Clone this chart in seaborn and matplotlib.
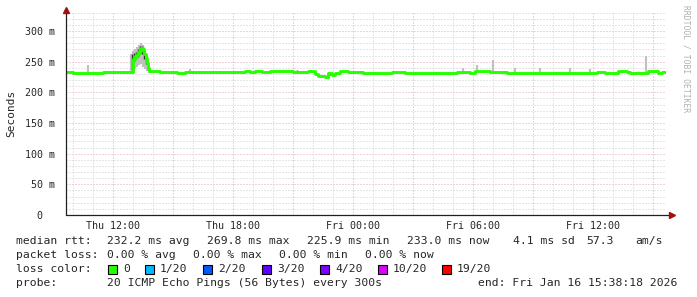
import numpy as np
import pandas as pd
import matplotlib
matplotlib.use("Agg")
import matplotlib.pyplot as plt
import seaborn as sns

# ---------------- data ----------------
# hours since start of graph (Thu 09:38:18), median RTT in ms (step changes)
med_hours = [0.0, 0.35, 1.85, 3.35, 3.45, 3.55, 3.65, 3.75, 3.85, 3.9, 4.0, 4.05,
             4.1, 4.15, 4.7, 5.55, 5.95, 6.2, 8.45, 8.95, 9.2, 9.45, 9.8, 10.2,
             11.35, 11.6, 11.7, 12.1, 12.45, 12.6, 12.95, 13.1, 13.3, 13.45, 13.7,
             14.1, 14.6, 14.85, 16.3, 16.95, 17.85, 19.55, 20.2, 20.45, 21.2, 22.05,
             26.55, 26.95, 27.6, 28.05, 28.2, 29.1, 29.6, 29.8, 29.95]
med_ms = [233.5, 231.5, 233.5, 255, 260, 263, 268, 272, 270, 262, 256, 248,
          240, 234.5, 232.5, 231.5, 233, 232.5, 233, 235.5, 232.5, 235.5, 232.5, 234.5,
          232.5, 233.5, 232.5, 234.5, 230.5, 226.5, 225.5, 231.5, 228, 231.5, 234.5,
          232.5, 233.5, 231.5, 233, 231.5, 231.5, 232.5, 231.5, 234.5, 232.5, 231.5,
          233.5, 231.5, 234.5, 232.5, 231, 234.5, 231.5, 233.5, 233.5]

# smoke (spread of the 20 pings) - light outer layer
smoke_hours = [1.1, 3.25, 3.35, 3.45, 3.55, 3.65, 3.75, 3.85, 3.95, 4.05, 4.15, 6.2, 19.85,
               20.55, 21.35, 22.45, 23.7, 25.2, 26.2, 29.0]
smoke_lo = [232, 234, 238, 240, 242, 244, 246, 242, 238, 234, 232, 232, 232,
            232, 232, 232, 232, 232, 232, 232]
smoke_hi = [244, 262, 268, 271, 274, 278, 280, 277, 268, 255, 242, 238, 240,
            244, 252, 240, 240, 240, 238, 260]
# smoke - dark inner layer
core_hours = [3.3, 3.4, 3.5, 3.6, 3.7, 3.8, 3.9, 4.0, 4.1, 11.55, 12.65, 13.2, 29.15]
core_lo = [236, 250, 255, 258, 262, 262, 255, 246, 236, 232, 226, 228, 233]
core_hi = [262, 264, 266, 270, 275, 276, 268, 260, 248, 236, 230, 232, 236]

y_ticks = [0, 50, 100, 150, 200, 250, 300]
y_labels = ["0  ", "50 m", "100 m", "150 m", "200 m", "250 m", "300 m"]
x_labels = ["Thu 12:00", "Thu 18:00", "Fri 00:00", "Fri 06:00", "Fri 12:00"]
start_offset_h = 38.3 / 60.0  # start is 38.3 min past the hour (09:38:18)

loss_labels = ["0", "1/20", "2/20", "3/20", "4/20", "10/20", "19/20"]
loss_colors = ["#26ff00", "#00b8ff", "#0059ff", "#5e00ff", "#7e00ff", "#dd00ff", "#ff0000"]

# ---------------- figure ----------------
sns.set_style("white")
MONO = ["DejaVu Sans Mono"]
plt.rcParams["font.family"] = MONO

W, H = 697, 297
fig = plt.figure(figsize=(W / 100, H / 100), dpi=100)
fig.patch.set_facecolor("white")
ax = fig.add_axes([66 / W, 82 / H, 600 / W, 203 / H])
ax.set_facecolor("white")
XMAX = 30.0
YMAX = 331.0
ax.set_xlim(0, XMAX)
ax.set_ylim(0, YMAX)

# grid
dot = (0, (1, 2))
minor_c = "#cfcfcf"
major_c = "#e6a9a9"
for v in np.arange(10, YMAX, 10):
    ax.axhline(v, color=(major_c if v % 50 == 0 else minor_c), lw=0.72, ls=dot, zorder=1)
first_hour = 1 - start_offset_h
for i, h in enumerate(np.arange(first_hour, XMAX, 1.0)):
    clock = (10 + i) % 24
    ax.axvline(h, color=(major_c if clock % 3 == 0 else minor_c), lw=0.72, ls=dot, zorder=1)

# smoke
ax.vlines(smoke_hours, smoke_lo, smoke_hi, color="#c0c0c0", lw=1.6, zorder=2)
ax.vlines(core_hours, core_lo, core_hi, color="#3a3a3a", lw=1.0, zorder=3)

# median line
df = pd.DataFrame({"hours": med_hours, "ms": med_ms})
sns.lineplot(data=df, x="hours", y="ms", ax=ax, color=loss_colors[0], lw=2.1,
             drawstyle="steps-post", zorder=4, legend=False)

# axes lines and arrows
for s in ax.spines.values():
    s.set_visible(False)
ax.plot([0, 30.3], [0, 0], color="#202020", lw=0.9, clip_on=False, zorder=5)
ax.plot([0, 0], [0, YMAX + 3], color="#202020", lw=0.9, clip_on=False, zorder=5)
ax.plot([30.3], [0], marker=">", color="#a01010", ms=4, clip_on=False, zorder=6)
ax.plot([0], [YMAX + 4], marker="^", color="#a01010", ms=4, clip_on=False, zorder=6)

# ticks
label_pos = [2 + (1 - start_offset_h) + 6 * i for i in range(5)]
ax.set_xticks(label_pos)
ax.set_xticklabels(x_labels, fontsize=7.2, family=MONO)
ax.set_xticks(np.arange(first_hour, XMAX, 1.0), minor=True)
ax.tick_params(axis="x", which="both", length=2, width=0.7, color="#808080",
               direction="out", pad=2)
ax.set_yticks(y_ticks)
ax.set_yticklabels(y_labels, fontsize=7.2, family=MONO)
ax.tick_params(axis="y", length=2, width=0.7, color="#808080", direction="out", pad=6)
ax.set_xlabel("")
ax.set_ylabel("")

# y label
fig.text(11 / W, 1 - 113 / H, "Seconds", rotation=90, ha="center", va="center",
         fontsize=8, family=MONO)

# watermark
fig.text(686 / W, 1 - 59 / H, "RRDTOOL / TOBI OETIKER", rotation=270, ha="center",
         va="center", fontsize=5.8, family=MONO, color="#b0b0b0")

# legend lines
LF = 8.2
def ptxt(x, y, s):
    fig.text(x / W, 1 - y / H, s, ha="left", va="center", fontsize=LF, family=MONO)

row1 = [(16, "median rtt:"), (107, "232.2 ms avg"), (207, "269.8 ms max"),
        (307, "225.9 ms min"), (407, "233.0 ms now"), (513, "4.1 ms sd"),
        (586, "57.3"), (635, "am/s")]
row2 = [(16, "packet loss:"), (107, "0.00 % avg"), (193, "0.00 % max"),
        (279, "0.00 % min"), (365, "0.00 % now")]
for x, s in row1:
    ptxt(x, 241, s)
for x, s in row2:
    ptxt(x, 255, s)
ptxt(16, 269, "loss color:")
box_x = [108, 145, 203, 262, 320, 378, 442]
for bx, lab, col in zip(box_x, loss_labels, loss_colors):
    fig.patches.append(plt.Rectangle((bx / W, 1 - 273.5 / H), 9 / W, 9 / H,
                                     transform=fig.transFigure, facecolor=col,
                                     edgecolor="black", lw=0.8))
    ptxt(bx + 15, 269, lab)
ptxt(16, 283, "probe:")
ptxt(107, 283, "20 ICMP Echo Pings (56 Bytes) every 300s")
ptxt(478, 283, "end: Fri Jan 16 15:38:18 2026")

fig.savefig("out.png", dpi=100, facecolor="white")
